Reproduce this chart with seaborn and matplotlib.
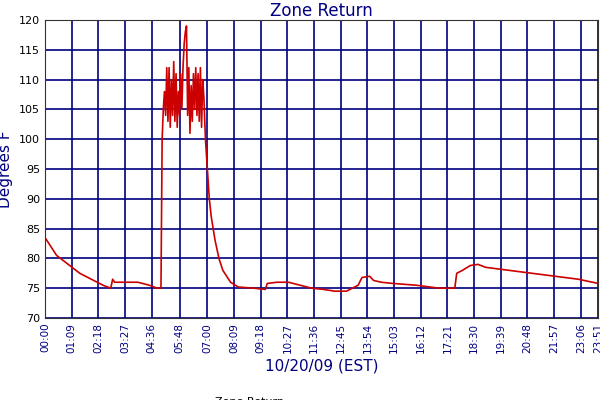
import matplotlib
matplotlib.use("Agg")
import matplotlib.pyplot as plt
import seaborn as sns
import pandas as pd

minutes = [0,15,30,60,90,120,150,170,175,180,210,240,270,290,300,303,306,309,312,315,318,321,324,327,330,333,336,339,342,345,348,351,354,357,360,363,366,369,372,375,378,381,384,387,390,393,396,399,402,405,408,411,415,420,425,430,435,440,450,460,480,500,540,570,575,600,630,660,690,720,750,780,810,820,840,850,870,900,960,1020,1060,1065,1080,1100,1120,1140,1200,1260,1320,1380,1431]
temps = [83.5,82,80.5,79,77.5,76.5,75.5,75,76.5,76,76,76,75.5,75,75,100,105,108,104,112,103,112,102,110,104,113,103,111,102,108,104,111,105,112,116,118,119,104,112,101,109,103,111,105,112,104,111,103,112,102,110,107,100,95,90,87,85,83,80,78,76,75.2,75,74.8,75.8,76,76,75.5,75,74.8,74.5,74.5,75.5,76.8,77,76.3,76,75.8,75.5,75,75,77.5,78,78.8,79,78.5,78,77.5,77,76.5,75.8]
tick_labels = ["00:00","01:09","02:18","03:27","04:36","05:48","07:00","08:09","09:18","10:27","11:36","12:45","13:54","15:03","16:12","17:21","18:30","19:39","20:48","21:57","23:06","23:51"]
tick_pos = [0,69,138,207,276,348,420,489,558,627,696,765,834,903,972,1041,1110,1179,1248,1317,1386,1431]

df = pd.DataFrame({"t": minutes, "v": temps})
navy = "#000080"
fig = plt.figure(figsize=(6, 4), dpi=100)
ax = fig.add_axes([0.075, 0.205, 0.922, 0.745])
sns.lineplot(data=df, x="t", y="v", ax=ax, color="#cc0000", linewidth=1.2, label="Zone Return")
ax.set_xlim(0, 1431)
ax.set_ylim(70, 120)
ax.set_xticks(tick_pos)
ax.set_xticklabels(tick_labels, rotation=90, fontsize=7.5, color=navy)
ax.set_yticks(range(70, 121, 5))
ax.tick_params(axis="y", labelsize=8)
ax.tick_params(length=0)
ax.grid(True, color=navy, linewidth=1.2)
for s in ax.spines.values():
    s.set_color("#333333")
ax.set_xlabel("10/20/09 (EST)", color=navy, fontsize=11)
ax.set_ylabel("Degrees F", color=navy, fontsize=11)
ax.set_title("Zone Return", color=navy, fontsize=12, pad=3)
ax.legend(loc="upper center", bbox_to_anchor=(0.35, -0.23), frameon=False, fontsize=8, handlelength=1.2)
fig.savefig("out.png", dpi=100)
